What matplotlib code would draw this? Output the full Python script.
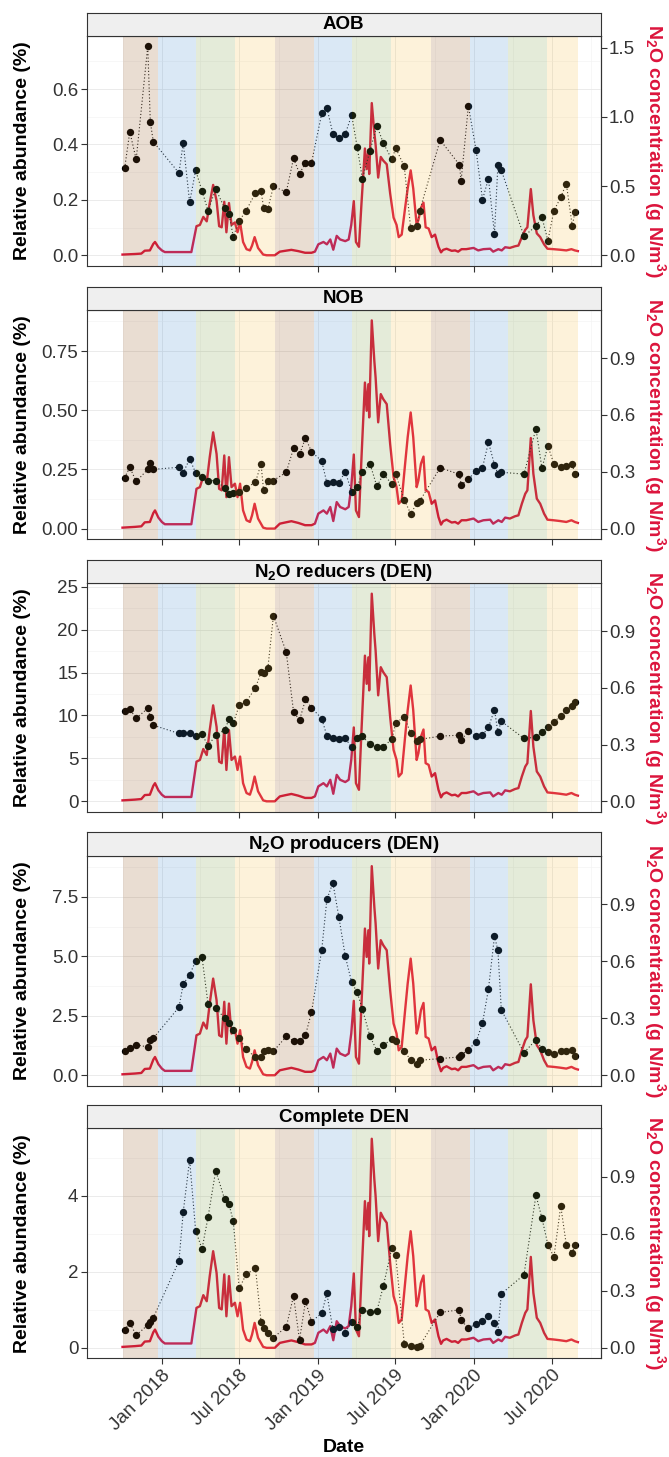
import numpy as np
import pandas as pd
import matplotlib
matplotlib.use('Agg')
import matplotlib.pyplot as plt
import matplotlib.dates as mdates
from matplotlib.ticker import FixedLocator, FormatStrFormatter, MultipleLocator

FONT = 'Liberation Sans'
plt.rcParams['font.family'] = [FONT, 'DejaVu Sans']
plt.rcParams['mathtext.fontset'] = 'custom'
plt.rcParams['mathtext.rm'] = FONT
plt.rcParams['mathtext.bf'] = FONT + ':bold'
plt.rcParams['mathtext.it'] = FONT + ':italic'
plt.rcParams['mathtext.default'] = 'regular'

# ---------------- data ----------------
n2o_dates = [
    '2017-10-01', '2017-10-30', '2017-11-14', '2017-11-22', '2017-12-04', '2017-12-12',
    '2017-12-16', '2017-12-24', '2018-01-01', '2018-01-08', '2018-03-11', '2018-03-23',
    '2018-03-31', '2018-04-08', '2018-04-16', '2018-04-23', '2018-05-01', '2018-05-09',
    '2018-05-15', '2018-05-21', '2018-05-27', '2018-06-01', '2018-06-07', '2018-06-13',
    '2018-06-21', '2018-06-27', '2018-07-03', '2018-07-10', '2018-07-18', '2018-07-26',
    '2018-07-31', '2018-08-06', '2018-08-14', '2018-08-26', '2018-09-03', '2018-09-22',
    '2018-10-04', '2018-10-16', '2018-10-31', '2018-11-16', '2018-12-02', '2018-12-17',
    '2018-12-25', '2019-01-02', '2019-01-14', '2019-01-22', '2019-01-30', '2019-02-06',
    '2019-02-14', '2019-02-22', '2019-03-06', '2019-03-14', '2019-03-20', '2019-03-26',
    '2019-03-31', '2019-04-07', '2019-04-13', '2019-04-21', '2019-04-25', '2019-04-29',
    '2019-05-01', '2019-05-07', '2019-05-13', '2019-05-16', '2019-05-22', '2019-05-28',
    '2019-06-03', '2019-06-11', '2019-06-19', '2019-06-27', '2019-07-04', '2019-07-09',
    '2019-07-16', '2019-07-24', '2019-07-30', '2019-08-06', '2019-08-12', '2019-08-20',
    '2019-08-24', '2019-08-30', '2019-09-05', '2019-09-10', '2019-09-17', '2019-09-24',
    '2019-10-02', '2019-10-10', '2019-10-16', '2019-10-21', '2019-10-29', '2019-11-10',
    '2019-11-18', '2019-11-25', '2019-12-03', '2019-12-14', '2019-12-31', '2020-01-11',
    '2020-01-23', '2020-02-08', '2020-02-15', '2020-02-27', '2020-03-06', '2020-03-14',
    '2020-03-25', '2020-04-06', '2020-04-14', '2020-04-22', '2020-04-30', '2020-05-05',
    '2020-05-13', '2020-05-19', '2020-05-27', '2020-06-04', '2020-06-13', '2020-06-21',
    '2020-07-05', '2020-07-20', '2020-08-04', '2020-08-16', '2020-08-24', '2020-08-31',
]
n2o_conc = [
    0.005, 0.009, 0.012, 0.033, 0.035, 0.082,
    0.096, 0.058, 0.035, 0.023, 0.023, 0.210,
    0.219, 0.277, 0.245, 0.377, 0.508, 0.394,
    0.210, 0.202, 0.386, 0.166, 0.377, 0.219,
    0.237, 0.166, 0.237, 0.096, 0.044, 0.035,
    0.070, 0.131, 0.053, 0.005, 0.000, 0.000,
    0.026, 0.032, 0.039, 0.030, 0.018, 0.018,
    0.026, 0.079, 0.096, 0.079, 0.114, 0.040,
    0.140, 0.114, 0.102, 0.114, 0.219, 0.391,
    0.096, 0.061, 0.377, 0.771, 0.622, 0.762,
    0.587, 1.099, 0.885, 0.797, 0.561, 0.710,
    0.683, 0.657, 0.447, 0.272, 0.219, 0.131,
    0.149, 0.342, 0.482, 0.613, 0.482, 0.219,
    0.254, 0.342, 0.380, 0.202, 0.193, 0.131,
    0.149, 0.061, 0.021, 0.039, 0.047, 0.032,
    0.035, 0.026, 0.044, 0.044, 0.053, 0.035,
    0.044, 0.047, 0.026, 0.044, 0.035, 0.058,
    0.053, 0.065, 0.070, 0.131, 0.184, 0.202,
    0.478, 0.289, 0.158, 0.131, 0.079, 0.047,
    0.044, 0.040, 0.035, 0.044, 0.035, 0.030,
]

sample_dates = [
    '2017-10-06', '2017-10-18', '2017-11-02', '2017-11-29', '2017-12-05', '2017-12-12',
    '2018-02-10', '2018-02-20', '2018-03-07', '2018-03-21', '2018-04-05', '2018-04-19',
    '2018-05-07', '2018-05-28', '2018-06-07', '2018-06-17', '2018-07-01', '2018-07-17',
    '2018-08-08', '2018-08-21', '2018-08-27', '2018-09-06', '2018-09-19', '2018-10-19',
    '2018-11-05', '2018-11-19', '2018-12-03', '2018-12-17', '2019-01-10', '2019-01-22',
    '2019-02-05', '2019-02-19', '2019-03-06', '2019-03-21', '2019-04-03', '2019-04-15',
    '2019-05-03', '2019-05-19', '2019-06-03', '2019-06-23', '2019-07-02', '2019-07-22',
    '2019-08-06', '2019-08-21', '2019-08-27', '2019-10-14', '2019-11-28', '2019-12-02',
    '2019-12-19', '2020-01-06', '2020-01-21', '2020-02-04', '2020-02-18', '2020-02-26',
    '2020-03-05', '2020-04-27', '2020-05-25', '2020-06-08', '2020-06-22', '2020-07-06',
    '2020-07-22', '2020-08-04', '2020-08-18', '2020-08-24',
]
aob = [
    0.314, 0.446, 0.346, 0.754, 0.482, 0.410, 0.297, 0.406, 0.191, 0.307, 0.232, 0.161,
    0.239, 0.170, 0.150, 0.067, 0.124, 0.161, 0.225, 0.232, 0.172, 0.168, 0.249, 0.228,
    0.350, 0.295, 0.333, 0.333, 0.512, 0.533, 0.439, 0.423, 0.438, 0.506, 0.390, 0.277,
    0.378, 0.468, 0.405, 0.346, 0.387, 0.321, 0.097, 0.105, 0.160, 0.416, 0.327, 0.269,
    0.540, 0.379, 0.201, 0.277, 0.077, 0.325, 0.307, 0.069, 0.105, 0.137, 0.053, 0.161,
    0.209, 0.259, 0.105, 0.155,
]
nob = [
    0.215, 0.259, 0.199, 0.250, 0.278, 0.250, 0.259, 0.236, 0.294, 0.236, 0.217, 0.203,
    0.203, 0.172, 0.147, 0.151, 0.154, 0.172, 0.196, 0.273, 0.161, 0.199, 0.203, 0.238,
    0.339, 0.313, 0.383, 0.325, 0.285, 0.193, 0.198, 0.193, 0.241, 0.154, 0.175, 0.238,
    0.273, 0.178, 0.229, 0.189, 0.229, 0.122, 0.063, 0.108, 0.116, 0.257, 0.229, 0.185,
    0.208, 0.245, 0.257, 0.365, 0.269, 0.231, 0.238, 0.230, 0.422, 0.255, 0.349, 0.273,
    0.259, 0.266, 0.273, 0.229,
]
n2o_reducers = [
    10.52, 10.71, 9.67, 10.82, 9.86, 8.86, 7.90, 8.01, 7.94, 7.55, 7.82, 6.47,
    7.70, 8.32, 9.55, 9.09, 11.17, 11.56, 13.21, 15.02, 14.95, 15.52, 21.61, 17.37,
    10.44, 9.44, 11.86, 10.90, 9.63, 7.63, 7.43, 7.24, 7.36, 6.28, 7.32, 7.55,
    6.66, 6.36, 6.36, 7.24, 9.09, 9.86, 7.94, 7.00, 7.20, 7.59, 7.70, 7.13,
    8.17, 7.59, 7.70, 8.63, 10.67, 8.05, 9.32, 7.32, 7.47, 8.09, 8.63, 9.21,
    9.98, 10.67, 11.06, 11.52,
]
n2o_producers = [
    1.01, 1.15, 1.28, 1.19, 1.47, 1.56, 2.86, 3.83, 4.22, 4.80, 4.96, 3.00,
    2.82, 2.40, 2.20, 1.91, 1.56, 1.10, 0.75, 0.77, 1.01, 1.08, 1.01, 1.63,
    1.45, 1.42, 1.68, 2.65, 5.27, 7.39, 8.09, 6.66, 5.01, 3.90, 3.48, 2.78,
    1.63, 1.03, 1.26, 1.52, 1.45, 1.03, 0.63, 0.47, 0.63, 0.70, 0.77, 0.84,
    1.08, 1.40, 2.19, 3.63, 5.84, 5.27, 2.75, 0.95, 1.49, 1.12, 0.98, 0.91,
    1.01, 1.02, 1.05, 0.80,
]
complete_den = [
    0.47, 0.66, 0.33, 0.60, 0.69, 0.79, 2.28, 3.57, 4.94, 3.08, 2.60, 3.43,
    4.66, 3.90, 3.78, 3.33, 1.56, 1.93, 2.09, 0.69, 0.53, 0.38, 0.27, 0.55,
    1.36, 0.21, 1.23, 0.69, 0.91, 1.43, 0.49, 0.55, 0.40, 0.68, 0.55, 0.99,
    0.94, 0.97, 1.62, 2.63, 2.43, 0.11, 0.05, 0.03, 0.05, 0.93, 1.00, 0.72,
    0.52, 0.63, 0.70, 0.85, 0.64, 0.42, 1.42, 1.92, 4.01, 3.41, 2.71, 2.38,
    3.73, 2.71, 2.49, 2.71,
]

season_starts = ['2017-10-01', '2017-12-22', '2018-03-21', '2018-06-21', '2018-09-23',
                 '2018-12-22', '2019-03-21', '2019-06-21', '2019-09-23', '2019-12-22',
                 '2020-03-20', '2020-06-20']
season_names = ['Autumn', 'Winter', 'Spring', 'Summer'] * 3
season_end = '2020-08-31'

panel_titles = ['AOB', 'NOB', r'N$_\mathbf{2}$O reducers (DEN)',
                r'N$_\mathbf{2}$O producers (DEN)', 'Complete DEN']
# secondary axis factor: N2O = relative abundance * factor
sec_factor = [2.0, 1.25, 1 / 22, 1 / 8, 1 / 5]
left_ticks = [[0, 0.2, 0.4, 0.6], [0, 0.25, 0.5, 0.75], [0, 5, 10, 15, 20, 25],
              [0, 2.5, 5.0, 7.5], [0, 2, 4]]
left_fmt = ['%.1f', '%.2f', '%d', '%.1f', '%d']
right_ticks = [[0, 0.5, 1.0, 1.5], [0, 0.3, 0.6, 0.9], [0, 0.3, 0.6, 0.9],
               [0, 0.3, 0.6, 0.9], [0, 0.3, 0.6, 0.9]]
x_tick_fmt = '%b %Y'

# ---------------- style ----------------
RED = '#DC143C'
season_colors = {'Autumn': '#915520', 'Winter': '#468CCD',
                 'Spring': '#789B41', 'Summer': '#F5BE46'}
BORDER = '#333333'
TXT = '#333333'

W, H = 669, 1457
fig = plt.figure(figsize=(W / 100, H / 100), dpi=100)
L = 86.6 / W
PW = (600.5 - 86.6) / W
panel_px = [(36, 265.7), (310, 539), (583.3, 811.7), (855.7, 1085.7), (1128.3, 1358.3)]
STRIP = 23.5

n2o_dt = pd.to_datetime(n2o_dates)
n2o_arr = np.asarray(n2o_conc, float)
sample_dt = pd.to_datetime(sample_dates)
series = [aob, nob, n2o_reducers, n2o_producers, complete_den]
starts = pd.to_datetime(season_starts)
ends = list(starts[1:]) + [pd.Timestamp(season_end)]
xlim = (pd.Timestamp('2017-07-09'), pd.Timestamp('2020-10-23'))

for i, (top, bot) in enumerate(panel_px):
    k = sec_factor[i]
    vals = np.asarray(series[i], float)
    scaled = n2o_arr / k
    ax = fig.add_axes([L, 1 - bot / H, PW, (bot - top) / H])
    lo = min(np.nanmin(vals), scaled.min())
    hi = max(np.nanmax(vals), scaled.max())
    r = hi - lo
    ax.set_ylim(lo - 0.05 * r, hi + 0.05 * r)
    ax.set_xlim(*xlim)

    ax.set_axisbelow(True)
    ax.yaxis.set_major_locator(FixedLocator(left_ticks[i]))
    ax.yaxis.set_major_formatter(FormatStrFormatter(left_fmt[i]))
    step = left_ticks[i][1] - left_ticks[i][0]
    ax.yaxis.set_minor_locator(MultipleLocator(step / 2))
    ax.xaxis.set_major_locator(mdates.MonthLocator(bymonth=[1, 7]))
    ax.xaxis.set_minor_locator(mdates.MonthLocator(bymonth=[4, 10]))
    ax.grid(which='major', color='#E8E8E8', lw=0.6)
    ax.grid(which='minor', color='#F2F2F2', lw=0.4)

    ax.plot(n2o_dt, scaled, color=RED, lw=1.7, zorder=2, solid_joinstyle='round')
    ax.plot(sample_dt, vals, ls=(0, (1, 2)), color='#222222', lw=0.8, zorder=2.5)
    ax.scatter(sample_dt, vals, s=28, color='black', lw=0, zorder=3)
    for s, e, nm in zip(starts, ends, season_names):
        ax.axvspan(s, e, color=season_colors[nm], alpha=0.2, lw=0, zorder=4)

    for sp in ax.spines.values():
        sp.set_color(BORDER)
        sp.set_linewidth(0.8)
        sp.set_zorder(5)
    ax.tick_params(axis='both', which='major', direction='out', length=4, width=0.8,
                   color=BORDER, labelsize=13.5, labelcolor=TXT, pad=2)
    ax.tick_params(axis='both', which='minor', length=0)

    sec = ax.secondary_yaxis('right', functions=(lambda y, k=k: y * k, lambda y, k=k: y / k))
    sec.yaxis.set_major_locator(FixedLocator(right_ticks[i]))
    sec.yaxis.set_major_formatter(FormatStrFormatter('%.1f'))
    sec.tick_params(axis='y', which='major', direction='out', length=4, width=0.8,
                    color=BORDER, labelsize=13.5, labelcolor=TXT, pad=2)
    sec.tick_params(axis='y', which='minor', length=0)
    for sp in sec.spines.values():
        sp.set_color(BORDER)
        sp.set_linewidth(0.8)

    if i == len(panel_px) - 1:
        ax.xaxis.set_major_formatter(mdates.DateFormatter(x_tick_fmt))
        for lab in ax.get_xticklabels():
            lab.set_rotation(45)
            lab.set_ha('right')
            lab.set_va('top')
            lab.set_rotation_mode('anchor')
    else:
        ax.tick_params(axis='x', labelbottom=False)

    # strip
    sax = fig.add_axes([L, 1 - top / H, PW, STRIP / H])
    sax.set_facecolor('#EFEFEF')
    sax.set_xticks([])
    sax.set_yticks([])
    for sp in sax.spines.values():
        sp.set_color(BORDER)
        sp.set_linewidth(0.8)
    sax.text(0.5, 0.47, panel_titles[i], ha='center', va='center', fontsize=13.5,
             fontweight='bold', color='black', transform=sax.transAxes)

    cy = 1 - (top + bot) / 2 / H
    fig.text(22.5 / W, cy, 'Relative abundance (%)', rotation=90, ha='center', va='center',
             fontsize=14, fontweight='bold', color='black')
    fig.text(655 / W, cy, r'N$_\mathbf{2}$O concentration (g N/m$^\mathbf{3}$)', rotation=270,
             ha='center', va='center', fontsize=14, fontweight='bold', color=RED)

fig.text(343.5 / W, 1 - 1447 / H, 'Date', ha='center', va='center', fontsize=14,
         fontweight='bold', color='black')

fig.savefig('out.png', dpi=100)
